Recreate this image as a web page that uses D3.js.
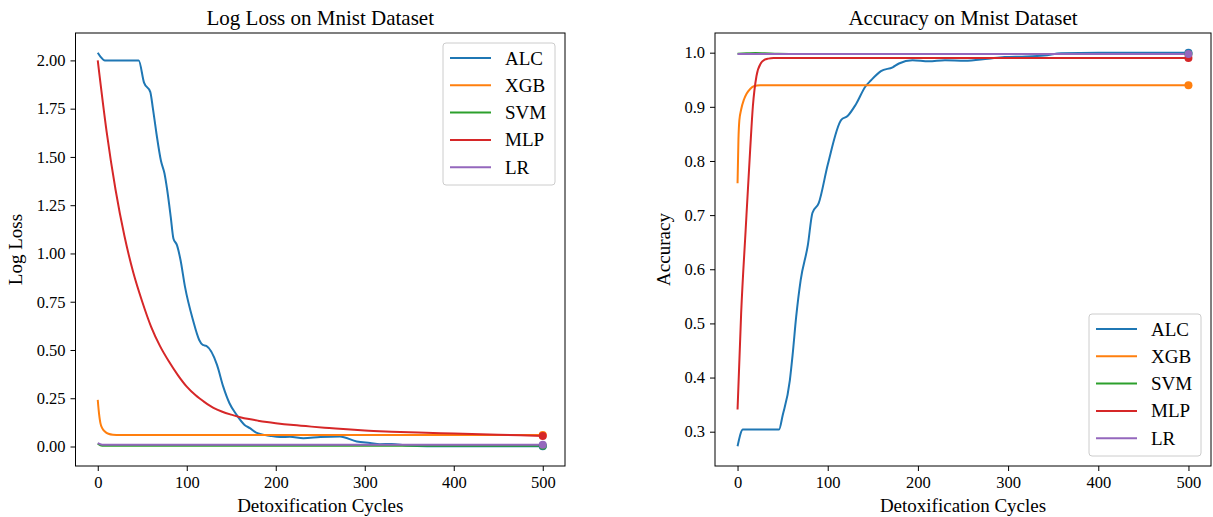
<!DOCTYPE html>
<html>
<head>
<meta charset="utf-8">
<script src="https://cdn.jsdelivr.net/npm/d3@7/dist/d3.min.js"></script>
<style>
  html, body { margin: 0; padding: 0; background: #fff; }
  svg { display: block; font-family: "Liberation Serif", "Times New Roman", serif; }
</style>
</head>
<body>
<svg id="chart" width="1213" height="517"></svg>
<script>
// ---------- data ----------
const seriesNames = ["ALC", "XGB", "SVM", "MLP", "LR"];
const seriesColors = ["#1f77b4", "#ff7f0e", "#2ca02c", "#d62728", "#9467bd"];
const xTicks = [0, 100, 200, 300, 400, 500];
const lossTicks = [0, 0.25, 0.5, 0.75, 1.0, 1.25, 1.5, 1.75, 2.0];
const accTicks = [0.3, 0.4, 0.5, 0.6, 0.7, 0.8, 0.9, 1.0];

// Log loss
const alcLossX = [0, 3, 8, 20, 46, 52, 59, 62, 66, 71, 75, 78, 82, 85, 89, 93, 98, 107, 114, 118, 122, 134, 141, 148, 156, 165, 171, 178, 194, 205, 216, 231, 250, 272, 291, 306, 317, 330, 347, 370, 500];
const alcLossY = [2.04, 2.02, 2.00, 2.00, 2.00, 1.885, 1.837, 1.75, 1.62, 1.48, 1.414, 1.33, 1.19, 1.078, 1.043, 0.966, 0.828, 0.655, 0.552, 0.526, 0.521, 0.423, 0.31, 0.224, 0.164, 0.112, 0.095, 0.072, 0.055, 0.049, 0.05, 0.043, 0.049, 0.052, 0.026, 0.018, 0.012, 0.013, 0.005, 0.001, 0.001];
const xgbLossX = [0, 1, 3, 5, 8, 12, 17, 25, 500];
const xgbLossY = [0.242, 0.19, 0.121, 0.095, 0.078, 0.066, 0.061, 0.06, 0.06];
const svmLossX = [0, 5, 500];
const svmLossY = [0.015, 0.004, 0.004];
const mlpLossX = [0, 10, 20, 30, 40, 50, 60, 70, 80, 90, 100, 110, 120, 130, 140, 150, 160, 170, 180, 190, 200, 220, 240, 260, 280, 300, 330, 360, 400, 450, 500];
const mlpLossY = [2.00, 1.63, 1.33, 1.09, 0.90, 0.75, 0.62, 0.52, 0.44, 0.37, 0.31, 0.265, 0.23, 0.20, 0.18, 0.165, 0.152, 0.142, 0.134, 0.127, 0.121, 0.111, 0.103, 0.096, 0.089, 0.083, 0.077, 0.072, 0.067, 0.061, 0.055];
const lrLossX = [0, 5, 500];
const lrLossY = [0.017, 0.009, 0.009];

// Accuracy
const alcAccX = [0, 6, 46, 50, 58, 61, 65, 70, 78, 83, 90, 100, 115, 122, 131, 142, 148, 159, 172, 179, 194, 212, 230, 252, 278, 296, 320, 340, 359, 400, 500];
const alcAccY = [0.273, 0.304, 0.304, 0.330, 0.395, 0.441, 0.512, 0.58, 0.645, 0.704, 0.722, 0.793, 0.876, 0.883, 0.904, 0.938, 0.949, 0.966, 0.973, 0.980, 0.986, 0.984, 0.986, 0.985, 0.989, 0.992, 0.993, 0.995, 0.999, 1.0, 1.0];
const xgbAccX = [0, 1, 2, 4, 7, 10, 14, 18, 25, 500];
const xgbAccY = [0.759, 0.84, 0.875, 0.895, 0.913, 0.924, 0.933, 0.938, 0.940, 0.940];
const svmAccX = [0, 10, 20, 30, 45, 70, 500];
const svmAccY = [0.998, 0.9988, 0.9995, 0.999, 0.998, 0.9975, 0.9975];
const mlpAccX = [0, 4, 9, 14, 17, 21, 26, 30, 34, 40, 500];
const mlpAccY = [0.341, 0.519, 0.673, 0.821, 0.901, 0.957, 0.981, 0.987, 0.989, 0.99, 0.99];
const lrAccX = [0, 500];
const lrAccY = [0.9975, 0.9975];

// ---------- drawing ----------
const svg = d3.select("#chart");
svg.append("rect").attr("width", 1213).attr("height", 517).attr("fill", "#fff");

function padded(ext) {
  const r = ext[1] - ext[0];
  return [ext[0] - 0.05 * r, ext[1] + 0.05 * r];
}

function drawPanel(cfg) {
  const { left, right, top, bottom, title, ylabel, ylabelX, xs, ys, yTicks, yFmt, legendPos } = cfg;
  const allX = xs.flat(), allY = ys.flat();
  const x = d3.scaleLinear().domain(padded(d3.extent(allX))).range([left, right]);
  const y = d3.scaleLinear().domain(padded(d3.extent(allY))).range([bottom, top]);
  const g = svg.append("g");

  const clipId = "clip" + Math.round(left);
  svg.append("clipPath").attr("id", clipId).append("rect")
    .attr("x", left).attr("y", top).attr("width", right - left).attr("height", bottom - top);

  const plot = g.append("g").attr("clip-path", `url(#${clipId})`);
  const line = d3.line().x(d => x(d[0])).y(d => y(d[1])).curve(d3.curveMonotoneX);
  seriesNames.forEach((name, i) => {
    const pts = xs[i].map((v, k) => [v, ys[i][k]]);
    plot.append("path").datum(pts)
      .attr("d", line).attr("fill", "none")
      .attr("stroke", seriesColors[i]).attr("stroke-width", 2)
      .attr("stroke-linejoin", "round").attr("stroke-linecap", "butt");
  });
  seriesNames.forEach((name, i) => {
    const last = [xs[i][xs[i].length - 1], ys[i][ys[i].length - 1]];
    g.append("circle").attr("cx", x(last[0])).attr("cy", y(last[1]))
      .attr("r", 4).attr("fill", seriesColors[i]);
  });

  // axes
  const xAxis = d3.axisBottom(x).tickValues(xTicks).tickSize(5).tickPadding(5).tickFormat(d3.format("d"));
  const yAxis = d3.axisLeft(y).tickValues(yTicks).tickSize(5).tickPadding(5).tickFormat(d3.format(yFmt));
  const gx = g.append("g").attr("transform", `translate(0,${bottom})`).call(xAxis);
  const gy = g.append("g").attr("transform", `translate(${left},0)`).call(yAxis);
  [gx, gy].forEach(a => {
    a.select(".domain").remove();
    a.selectAll("line").attr("stroke", "#000").attr("stroke-width", 1);
    a.selectAll("text").attr("font-family", "Liberation Serif, serif").attr("font-size", 16.5).attr("fill", "#000");
  });

  // frame
  g.append("rect").attr("x", left).attr("y", top).attr("width", right - left).attr("height", bottom - top)
    .attr("fill", "none").attr("stroke", "#000").attr("stroke-width", 1);

  // title and labels
  g.append("text").attr("x", (left + right) / 2).attr("y", 25).attr("text-anchor", "middle")
    .attr("font-size", 21).text(title);
  g.append("text").attr("x", (left + right) / 2).attr("y", 512).attr("text-anchor", "middle")
    .attr("font-size", 19).text("Detoxification Cycles");
  g.append("text").attr("transform", `translate(${ylabelX},${(top + bottom) / 2}) rotate(-90)`)
    .attr("text-anchor", "middle").attr("font-size", 19).text(ylabel);

  // legend
  const lw = 112, lh = 142;
  const lx = right - 10 - lw;
  const ly = legendPos === "top" ? top + 10 : bottom - 10 - lh;
  const lg = g.append("g");
  lg.append("rect").attr("x", lx).attr("y", ly).attr("width", lw).attr("height", lh)
    .attr("rx", 3).attr("fill", "#fff").attr("fill-opacity", 0.8).attr("stroke", "#ccc").attr("stroke-width", 1);
  seriesNames.forEach((name, i) => {
    const yy = ly + 15 + i * 27.3;
    lg.append("line").attr("x1", lx + 7).attr("x2", lx + 48).attr("y1", yy).attr("y2", yy)
      .attr("stroke", seriesColors[i]).attr("stroke-width", 2);
    lg.append("text").attr("x", lx + 62).attr("y", yy + 6.5).attr("font-size", 19).text(name);
  });
}

drawPanel({
  left: 75.5, right: 565, top: 33, bottom: 466,
  title: "Log Loss on Mnist Dataset", ylabel: "Log Loss", ylabelX: 22,
  xs: [alcLossX, xgbLossX, svmLossX, mlpLossX, lrLossX],
  ys: [alcLossY, xgbLossY, svmLossY, mlpLossY, lrLossY],
  yTicks: lossTicks, yFmt: ".2f", legendPos: "top"
});
drawPanel({
  left: 715, right: 1211, top: 33, bottom: 466,
  title: "Accuracy on Mnist Dataset", ylabel: "Accuracy", ylabelX: 670,
  xs: [alcAccX, xgbAccX, svmAccX, mlpAccX, lrAccX],
  ys: [alcAccY, xgbAccY, svmAccY, mlpAccY, lrAccY],
  yTicks: accTicks, yFmt: ".1f", legendPos: "bottom"
});
</script>
</body>
</html>
